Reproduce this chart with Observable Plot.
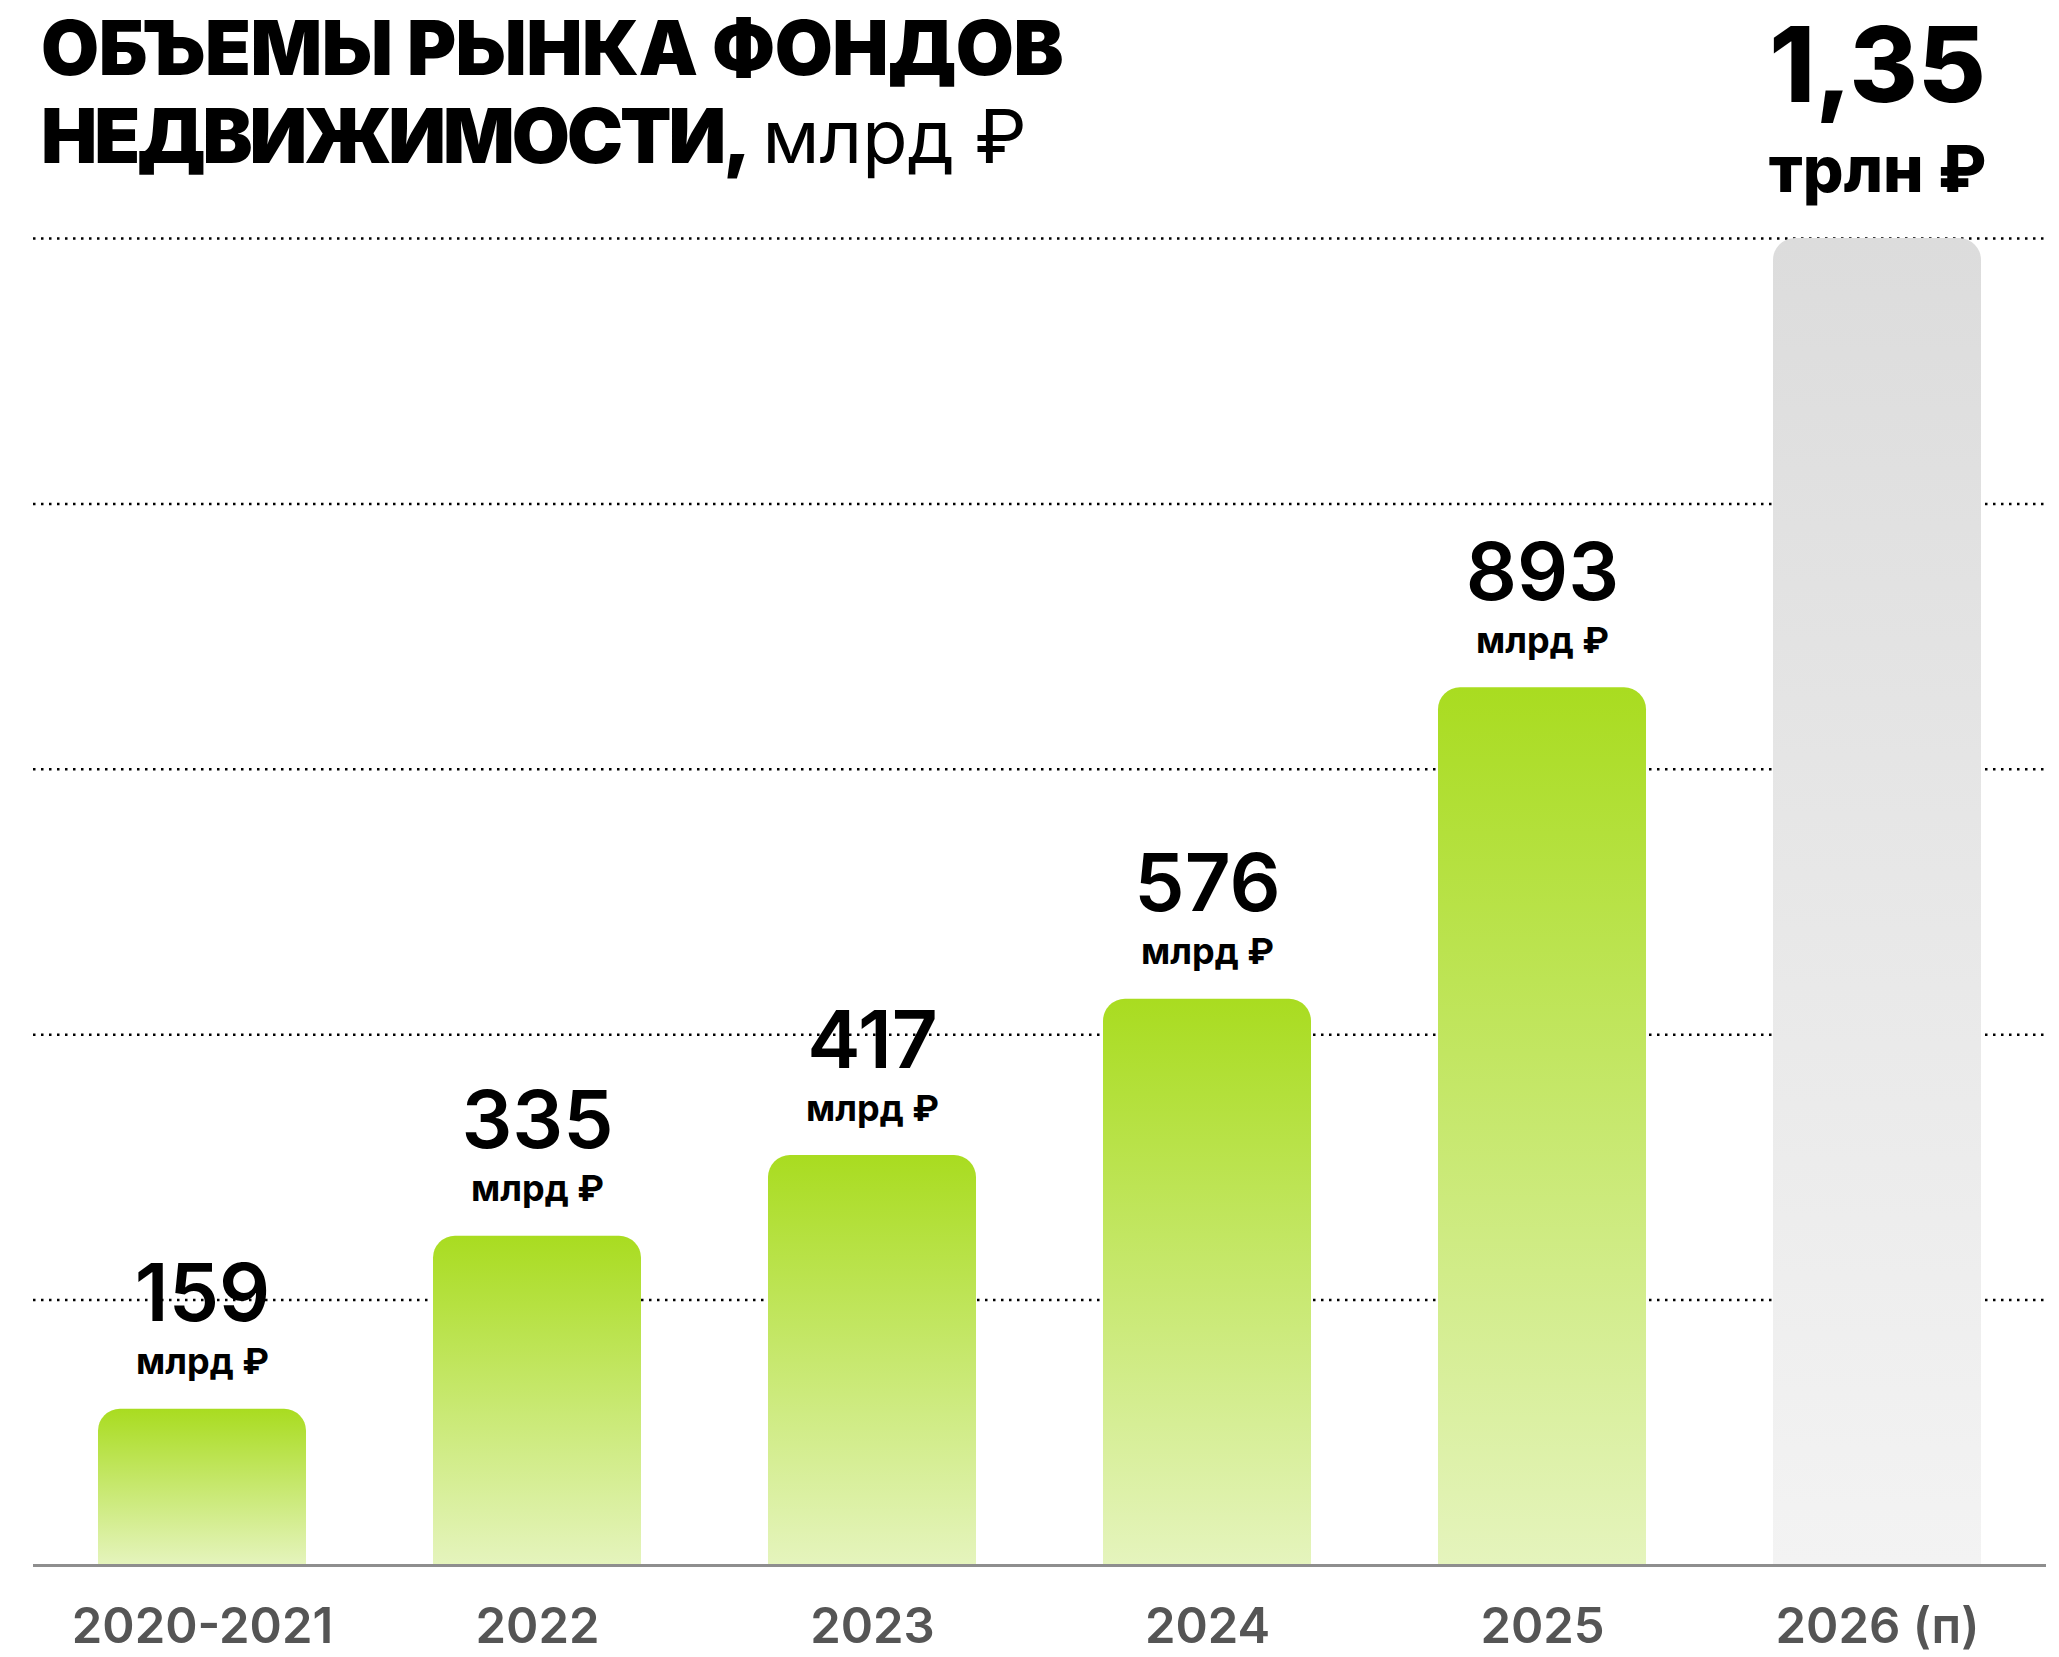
<!DOCTYPE html>
<html><head><meta charset="utf-8">
<script src="https://cdn.jsdelivr.net/npm/d3@7"></script>
<script src="https://cdn.jsdelivr.net/npm/@observablehq/plot@0.6"></script>
<style>
html,body{margin:0;padding:0;background:#fff}
#wrap{position:relative;width:2059px;height:1657px;overflow:hidden}
#title{position:absolute;left:41px;top:4px;font-family:Inter,sans-serif;font-size:75px;line-height:88px;font-weight:900;color:#000;white-space:nowrap;letter-spacing:-0.5px}
#title .l2{letter-spacing:-3px}
#title .unit{font-weight:400;font-size:74px;letter-spacing:0}
#chart{position:absolute;left:0;top:0}
</style></head><body>
<div id="wrap">
  <div id="chart"></div>
  <div id="title">ОБЪЕМЫ РЫНКА ФОНДОВ<br><span class="l2">НЕДВИЖИМОСТИ,</span> <span class="unit">млрд ₽</span></div>
</div>
<script>
const categories = ["2020-2021", "2022", "2023", "2024", "2025", "2026 (п)"];
const values = [159, 335, 417, 576, 893, 1350];
const valueLabels = ["159", "335", "417", "576", "893", "1,35"];
const unitLabels = ["млрд ₽", "млрд ₽", "млрд ₽", "млрд ₽", "млрд ₽", "трлн ₽"];
const forecast = [false, false, false, false, false, true];
const gridTicks = [270, 540, 810, 1080, 1350];

const data = categories.map((c, i) => ({
  category: c, value: values[i], label: valueLabels[i], unit: unitLabels[i], forecast: forecast[i]
}));
const actual = data.filter(d => !d.forecast);
const future = data.filter(d => d.forecast);

const ns = "http://www.w3.org/2000/svg";
function defs() {
  const g = document.createElementNS(ns, "defs");
  const mk = (id, top, bottom) => {
    const lg = document.createElementNS(ns, "linearGradient");
    lg.setAttribute("id", id);
    lg.setAttribute("x1", "0"); lg.setAttribute("y1", "0");
    lg.setAttribute("x2", "0"); lg.setAttribute("y2", "1");
    [[0, top], [1, bottom]].forEach(([o, c]) => {
      const s = document.createElementNS(ns, "stop");
      s.setAttribute("offset", o); s.setAttribute("stop-color", c);
      lg.appendChild(s);
    });
    g.appendChild(lg);
  };
  mk("gGreen", "#a9dc20", "#e5f4bd");
  mk("gGray", "#dcdcdc", "#f3f3f3");
  return g;
}

const font = "Inter, sans-serif";
const chart = Plot.plot({
  width: 2059,
  height: 1657,
  marginTop: 238,
  marginBottom: 92,
  marginLeft: 33,
  marginRight: 13,
  style: {background: "#fff", fontFamily: font},
  x: {domain: categories, paddingInner: 0.38, paddingOuter: 0.19, label: null},
  y: {domain: [0, 1350], axis: null},
  marks: [
    defs,
    Plot.ruleY(gridTicks, {stroke: "#000", strokeWidth: 2.5, strokeDasharray: "2.5 5.5"}),
    Plot.barY(data, {x: "category", y: "value", fill: d => d.forecast ? "url(#gGray)" : "url(#gGreen)", ry1: 22}),
    Plot.ruleY([0], {stroke: "#8e8e8e", strokeWidth: 3}),
    Plot.axisX({tickSize: 0, tickPadding: 43, fontSize: 49, fontWeight: 600, fill: "#555", fontFamily: font}),
    Plot.text(actual, {x: "category", y: "value", text: "label", lineAnchor: "bottom", dy: -88, fontSize: 80, fontWeight: 600, fill: "#000"}),
    Plot.text(actual, {x: "category", y: "value", text: "unit", lineAnchor: "bottom", dy: -35, fontSize: 36, fontWeight: 700, fill: "#000"}),
    Plot.text(future, {x: "category", y: "value", text: "label", lineAnchor: "bottom", dy: -137, fontSize: 104, fontWeight: 800, fill: "#000", style: "letter-spacing:-2px"}),
    Plot.text(future, {x: "category", y: "value", text: "unit", lineAnchor: "bottom", dy: -47, fontSize: 64, fontWeight: 800, fill: "#000"})
  ]
});
document.getElementById("chart").appendChild(chart);
</script>
</body></html>
